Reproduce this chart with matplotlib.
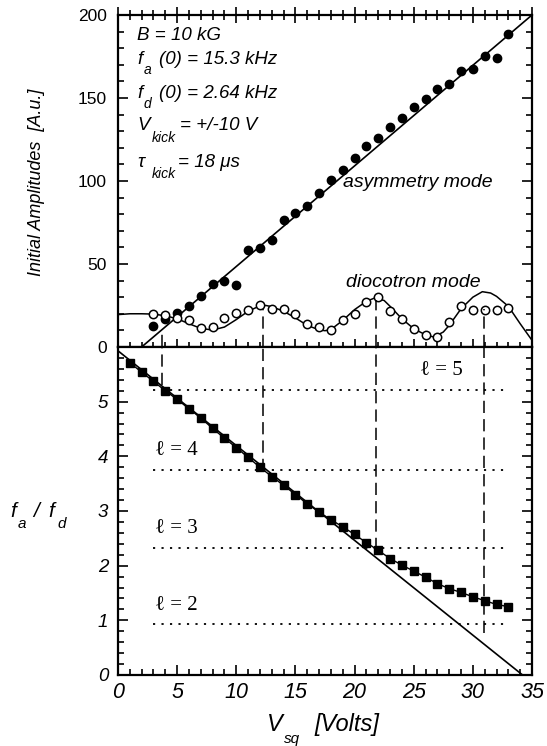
import matplotlib
matplotlib.use("Agg")
import matplotlib.pyplot as plt
from matplotlib.ticker import MultipleLocator

# --- DATA ---
v_asym = [3, 4, 5, 6, 7, 8, 9, 10, 11, 12, 13, 14, 15, 16, 17, 18, 19, 20,
          21, 22, 23, 24, 25, 26, 27, 28, 29, 30, 31, 32, 33]
amp_asym = [12.6, 16.7, 20.3, 24.7, 30.7, 37.8, 39.8, 37.3, 58.4, 59.8, 64.5,
            76.5, 80.5, 84.9, 92.6, 100.6, 106.4, 113.7, 121.0, 126.0, 132.3,
            138.0, 144.3, 149.2, 155.2, 158.2, 166.2, 167.2, 175.3, 173.9, 188.4]
fit_asym_v = [2.0, 35.0]
fit_asym_amp = [0.0, 200.0]

v_dioc = [3, 4, 5, 6, 7, 8, 9, 10, 11, 12, 13, 14, 15, 16, 17, 18, 19, 20,
          21, 22, 23, 24, 25, 26, 27, 28, 29, 30, 31, 32, 33]
amp_dioc = [19.9, 19.5, 17.3, 16.3, 11.6, 12.2, 17.7, 20.3, 22.3, 25.1, 22.7,
            22.7, 19.8, 14.0, 12.0, 10.2, 16.0, 19.8, 26.9, 30.3, 21.9, 16.6,
            11.0, 7.5, 6.3, 15.3, 24.9, 22.3, 22.3, 22.3, 23.3]
curve_v = [0, 1, 2, 3, 4, 5, 6, 7, 8, 9, 10, 11, 12, 12.5, 13, 14, 15, 16, 17,
           17.5, 18, 19, 20, 21, 21.7, 22.5, 23, 24, 25, 26, 26.7, 27.5, 28,
           29, 30, 30.8, 31.5, 32, 33, 34, 35]
curve_amp = [19.5, 20.0, 20.0, 19.8, 18.8, 17.0, 14.0, 11.2, 10.2, 12.0, 16.5,
             21.5, 24.8, 25.0, 24.3, 21.5, 17.5, 13.0, 10.3, 9.8, 10.5, 16.0,
             22.5, 27.5, 29.5, 28.0, 24.5, 17.0, 11.0, 7.3, 6.0, 9.0, 13.0,
             23.0, 30.0, 33.3, 32.5, 30.5, 24.5, 14.0, 4.0]

v_ratio = list(range(1, 34))
ratio = [5.71, 5.54, 5.37, 5.20, 5.04, 4.87, 4.70, 4.51, 4.33, 4.16, 3.98,
         3.80, 3.63, 3.47, 3.30, 3.13, 2.98, 2.84, 2.71, 2.57, 2.42, 2.28,
         2.13, 2.01, 1.90, 1.79, 1.67, 1.58, 1.51, 1.43, 1.36, 1.29, 1.25]
fit_ratio_v = [0.0, 34.2]
fit_ratio = [5.93, 0.0]

ell = [2, 3, 4, 5]
ell_ratio = [0.925, 2.33, 3.75, 5.21]
ell_span = [3.0, 32.8]
ell_label_v = [3.1, 3.1, 3.1, 25.5]

res_v = [3.7, 12.3, 21.8, 30.9]
res_amp_top = [8, 23, 28, 23]
res_ratio_bot = [5.3, 3.74, 2.28, 0.77]

FONT = ['Liberation Sans', 'DejaVu Sans']
SERIF = ['Liberation Serif', 'DejaVu Serif']
plt.rcParams['font.family'] = FONT

fig = plt.figure(figsize=(5.47, 7.46), dpi=100)
ax1 = fig.add_axes([0.2157, 0.5349, 0.7569, 0.4450])
ax2 = fig.add_axes([0.2157, 0.0952, 0.7569, 0.4397])

# --- top panel: initial amplitudes ---
ax1.plot(fit_asym_v, fit_asym_amp, color='black', lw=1.2)
ax1.plot(v_asym, amp_asym, 'o', color='black', ms=6)
ax1.plot(curve_v, curve_amp, color='black', lw=1.1)
ax1.plot(v_dioc, amp_dioc, 'o', mfc='white', mec='black', mew=1.1, ms=6)
for v, a in zip(res_v, res_amp_top):
    ax1.plot([v, v], [0, a], color='black', lw=1.1, dashes=(8, 4))

ax1.set_xlim(0, 35)
ax1.set_ylim(0, 200)
ax1.xaxis.set_major_locator(MultipleLocator(5))
ax1.xaxis.set_minor_locator(MultipleLocator(1))
ax1.yaxis.set_major_locator(MultipleLocator(50))
ax1.yaxis.set_minor_locator(MultipleLocator(10))
ax1.tick_params(axis='both', which='both', direction='in', top=True, right=True,
                width=1.2, labelbottom=False)
ax1.tick_params(which='major', length=7)
ax1.tick_params(which='minor', length=4)
ax1.tick_params(axis='x', which='major', direction='inout', length=12)
ax1.tick_params(axis='x', which='minor', direction='inout', length=7)
ax1.tick_params(axis='y', labelsize=12.5, pad=8)

ax1.text(19.0, 96.6, 'asymmetry mode', fontsize=14, style='italic', va='baseline')
ax1.text(19.3, 36.3, 'diocotron mode', fontsize=14, style='italic', va='baseline')

# parameter block (axes fraction)
def put(ax, x, y, s, size=13.5):
    ax.text(x, y, s, transform=ax.transAxes, fontsize=size, style='italic',
            va='baseline', family=FONT)

put(ax1, 0.046, 0.925, 'B = 10 kG')
put(ax1, 0.046, 0.851, 'f')
put(ax1, 0.062, 0.822, 'a', 10)
put(ax1, 0.099, 0.851, '(0) = 15.3 kHz')
put(ax1, 0.046, 0.749, 'f')
put(ax1, 0.062, 0.719, 'd', 10)
put(ax1, 0.099, 0.749, '(0) = 2.64 kHz')
put(ax1, 0.046, 0.654, 'V')
put(ax1, 0.082, 0.618, 'kick', 10)
put(ax1, 0.150, 0.654, '= +/-10 V')
put(ax1, 0.046, 0.543, 'τ')
put(ax1, 0.082, 0.508, 'kick', 10)
put(ax1, 0.146, 0.543, '= 18 μs')

fig.text(37 / 547, 1 - 182 / 746, 'Initial Amplitudes  [A.u.]', rotation=90,
         fontsize=13, style='italic', ha='center', va='center')

# --- bottom panel: frequency ratio ---
for lv, r, xl in zip(ell, ell_ratio, ell_label_v):
    ax2.plot(ell_span, [r, r], color='black', lw=1.3, dashes=(1.2, 3.5))
    ax2.text(xl, r + 0.18, '\u2113 = %d' % lv, fontsize=15, family=SERIF,
             va='bottom')
for v, r in zip(res_v, res_ratio_bot):
    ax2.plot([v, v], [r, 6], color='black', lw=1.1, dashes=(8, 4))
ax2.plot(fit_ratio_v, fit_ratio, color='black', lw=1.2)
ax2.plot(v_ratio, ratio, 's-', color='black', ms=6, lw=1.0)

ax2.set_xlim(0, 35)
ax2.set_ylim(0, 6)
ax2.xaxis.set_major_locator(MultipleLocator(5))
ax2.xaxis.set_minor_locator(MultipleLocator(1))
ax2.yaxis.set_major_locator(MultipleLocator(1))
ax2.yaxis.set_minor_locator(MultipleLocator(0.2))
ax2.tick_params(axis='both', which='both', direction='in', top=False, right=True,
                width=1.2)
ax2.tick_params(which='major', length=7)
ax2.tick_params(which='minor', length=4)
ax2.tick_params(axis='y', labelsize=13.5, pad=7)
ax2.tick_params(axis='x', labelsize=15.5, pad=5)
ax2.set_yticks([0, 1, 2, 3, 4, 5])
for lab in ax2.get_xticklabels() + ax2.get_yticklabels():
    lab.set_style('italic')

for a in (ax1, ax2):
    for sp in a.spines.values():
        sp.set_linewidth(1.6)

# f_a / f_d label
fig.text(10 / 547, 1 - 517 / 746, 'f', fontsize=15, style='italic', va='baseline')
fig.text(18 / 547, 1 - 528 / 746, 'a', fontsize=11, style='italic', va='baseline')
fig.text(33 / 547, 1 - 517 / 746, '/', fontsize=15, style='italic', va='baseline')
fig.text(48 / 547, 1 - 517 / 746, 'f', fontsize=15, style='italic', va='baseline')
fig.text(57 / 547, 1 - 528 / 746, 'd', fontsize=11, style='italic', va='baseline')

# V_sq [Volts] label
fig.text(267 / 547, 1 - 731 / 746, 'V', fontsize=17, style='italic', va='baseline')
fig.text(284 / 547, 1 - 743 / 746, 'sq', fontsize=11, style='italic', va='baseline')
fig.text(314 / 547, 1 - 731 / 746, '[Volts]', fontsize=17, style='italic',
         va='baseline')

fig.savefig('out.png', dpi=100)
